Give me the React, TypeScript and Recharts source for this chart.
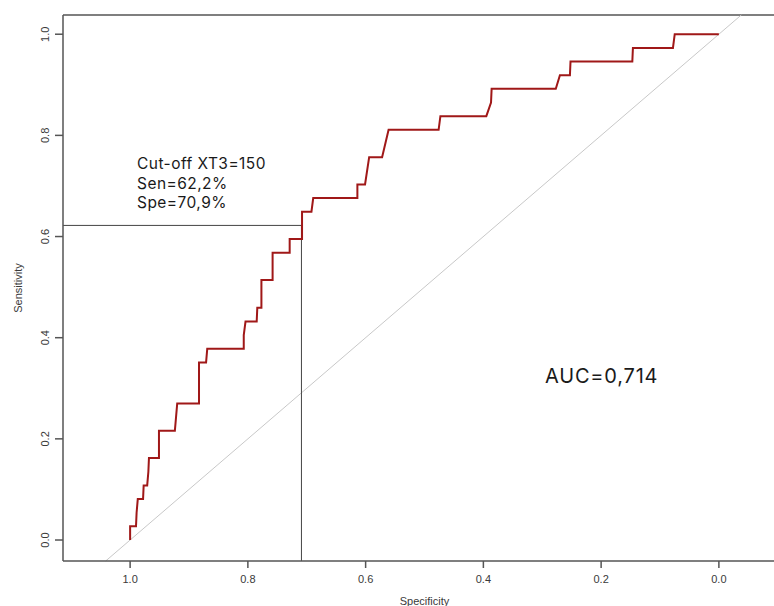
import { LineChart, Line, XAxis, YAxis, ReferenceLine } from 'recharts'

// ROC curve points (specificity, sensitivity)
const specificity = [
  1.0, 1.0, 0.99, 0.989, 0.987, 0.978, 0.977, 0.971, 0.969, 0.968, 0.951, 0.951, 0.924, 0.922,
  0.92, 0.883, 0.883, 0.871, 0.869, 0.807, 0.807, 0.804, 0.785, 0.784, 0.777, 0.777, 0.758,
  0.758, 0.729, 0.729, 0.708, 0.708, 0.692, 0.689, 0.614, 0.614, 0.601, 0.594, 0.572, 0.561,
  0.476, 0.473, 0.395, 0.387, 0.386, 0.277, 0.27, 0.253, 0.252, 0.147, 0.146, 0.078, 0.075, 0.0,
]
const sensitivity = [
  0, 0.027, 0.027, 0.054, 0.081, 0.081, 0.108, 0.108, 0.135, 0.162, 0.162, 0.216, 0.216, 0.243,
  0.27, 0.27, 0.351, 0.351, 0.378, 0.378, 0.405, 0.432, 0.432, 0.459, 0.459, 0.514, 0.514,
  0.568, 0.568, 0.595, 0.595, 0.649, 0.649, 0.676, 0.676, 0.703, 0.703, 0.757, 0.757, 0.811,
  0.811, 0.838, 0.838, 0.865, 0.892, 0.892, 0.919, 0.919, 0.946, 0.946, 0.973, 0.973, 1.0, 1.0,
]
const xTicks = [1.0, 0.8, 0.6, 0.4, 0.2, 0.0]
const yTicks = [0.0, 0.2, 0.4, 0.6, 0.8, 1.0]
const cutoffSpec = 0.709
const cutoffSens = 0.622
const annotation = ['Cut-off XT3=150', 'Sen=62,2%', 'Spe=70,9%']
const aucLabel = 'AUC=0,714'

const X_MIN = -0.114
const X_MAX = 1.114
const Y_MIN = -0.0415
const Y_MAX = 1.038

const rows = specificity.map((s, i) => ({ spec: s, sens: sensitivity[i] }))

const AXIS = '#555'
const TICK_FONT = { fontFamily: 'Liberation Sans, Arial, sans-serif', fontSize: 11, fill: '#3a3a3a' }

const XTick = ({ x, y, payload }: any) => (
  <text x={x} y={y + 13} textAnchor="middle" {...TICK_FONT}>
    {payload.value.toFixed(1)}
  </text>
)

const YTick = ({ x, y, payload }: any) => (
  <text x={x} y={y} textAnchor="middle" transform={`rotate(-90, ${x}, ${y})`} {...TICK_FONT}>
    {payload.value.toFixed(1)}
  </text>
)

const textFont = 'Inter, "Noto Sans", sans-serif'

export default function App() {
  return (
    <div style={{ position: 'absolute', left: 0, top: 0, width: 774, height: 606, overflow: 'hidden', background: '#fff' }}>
      <LineChart width={800} height={606} data={rows} margin={{ top: 15, right: 14, bottom: 0, left: 0 }}>
        <XAxis
          dataKey="spec"
          type="number"
          reversed
          domain={[X_MIN, X_MAX]}
          allowDataOverflow
          ticks={xTicks}
          height={45}
          tickSize={7}
          tick={<XTick />}
          stroke={AXIS}
          strokeWidth={1.5}
          label={{ value: 'Specificity', position: 'insideBottom', offset: 0, dy: -1, style: { ...TICK_FONT, fontSize: 11 } }}
        />
        <YAxis
          type="number"
          domain={[Y_MIN, Y_MAX]}
          allowDataOverflow
          ticks={yTicks}
          width={63}
          tickSize={8}
          tickMargin={6}
          tick={<YTick />}
          stroke={AXIS}
          strokeWidth={1.5}
          label={{ value: 'Sensitivity', angle: -90, position: 'insideLeft', offset: 18, style: { ...TICK_FONT, fontSize: 11, textAnchor: 'middle' } }}
        />
        <ReferenceLine y={Y_MAX} stroke={AXIS} strokeWidth={1.5} />
        <ReferenceLine
          segment={[{ x: 1 - Y_MIN, y: Y_MIN }, { x: 1 - Y_MAX, y: Y_MAX }]}
          stroke="#c8c8c8"
          strokeWidth={1}
        />
        <ReferenceLine
          segment={[{ x: X_MAX, y: cutoffSens }, { x: cutoffSpec, y: cutoffSens }]}
          stroke="#444"
          strokeWidth={1}
        />
        <ReferenceLine
          segment={[{ x: cutoffSpec, y: Y_MIN }, { x: cutoffSpec, y: cutoffSens }]}
          stroke="#444"
          strokeWidth={1}
        />
        <Line
          type="linear"
          dataKey="sens"
          stroke="#a01818"
          strokeWidth={2}
          dot={false}
          isAnimationActive={false}
        />
      </LineChart>
      <div style={{ position: 'absolute', left: 137, top: 154, fontFamily: textFont, fontSize: 15.5, letterSpacing: 0.45, lineHeight: '19.5px', color: '#1a1a1a' }}>
        {annotation.map((t) => (
          <div key={t}>{t}</div>
        ))}
      </div>
      <div style={{ position: 'absolute', left: 545, top: 364, fontFamily: textFont, fontSize: 20, letterSpacing: 0.8, color: '#1a1a1a' }}>
        {aucLabel}
      </div>
    </div>
  )
}
